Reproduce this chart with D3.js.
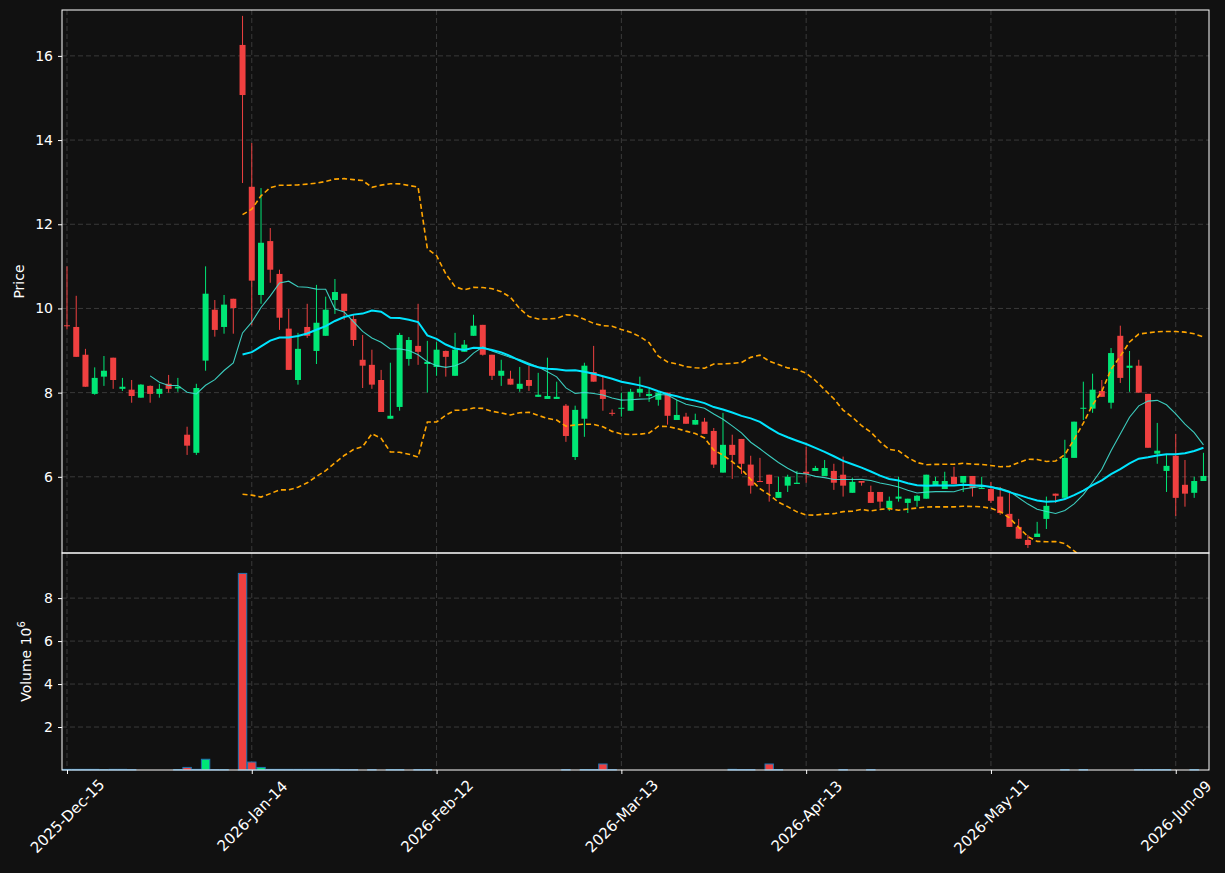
<!DOCTYPE html>
<html>
<head>
<meta charset="utf-8">
<script src="https://cdn.jsdelivr.net/npm/d3@7"></script>
<style>
  body { margin: 0; background: #111111; }
  svg text { font-family: "DejaVu Sans", sans-serif; fill: #ffffff; }
</style>
</head>
<body>
<svg id="chart" width="1225" height="873"></svg>
<script>
// OHLC, one entry per trading day
var opens  = [9.6,9.56,8.9,7.97,8.38,8.83,8.09,8.07,7.88,8.16,7.97,8.21,8.1,7.0,6.57,8.76,9.97,9.56,10.23,16.26,
              12.89,10.32,11.6,10.82,9.52,8.3,9.56,8.99,9.35,10.2,10.35,9.75,8.78,8.66,8.3,7.38,7.66,8.8,9.11,8.68,
              8.61,8.99,8.4,8.97,9.35,9.61,8.9,8.4,8.33,8.09,8.3,7.9,7.85,7.85,7.69,6.47,7.38,8.49,8.07,7.52,
              7.62,7.57,8.0,7.92,7.83,8.0,7.35,7.43,7.24,7.31,7.09,6.1,6.76,6.9,6.29,5.9,6.05,5.5,5.79,5.83,
              6.12,6.14,6.02,6.14,6.05,5.62,5.9,5.64,5.64,5.26,5.48,5.38,5.43,5.48,5.79,5.71,6.0,5.86,6.02,5.71,
              5.71,5.53,5.12,4.81,4.5,4.57,5.0,5.6,5.5,6.45,7.62,7.62,8.04,7.76,9.35,8.59,8.64,7.97,6.55,6.14,
              6.5,5.81,5.62,5.9];
var highs  = [11.0,10.3,9.04,8.6,8.87,8.83,8.35,8.3,8.2,8.17,8.21,8.42,8.35,7.19,8.21,11.0,10.2,10.32,10.23,16.95,
              13.93,12.86,11.91,10.92,9.99,9.42,10.11,10.56,10.28,10.7,10.35,9.85,9.37,9.02,8.54,8.71,9.42,9.32,10.11,9.23,
              9.2,9.0,9.42,9.25,9.85,9.61,8.9,8.78,8.52,8.61,8.64,8.47,8.83,8.26,7.73,7.69,8.71,9.11,8.38,7.6,
              8.0,8.09,8.38,8.09,8.02,8.0,7.83,7.52,7.5,7.4,7.16,7.52,7.0,6.9,6.5,6.45,6.05,6.0,6.05,6.14,
              6.71,6.26,6.4,6.31,6.48,5.98,5.9,5.79,5.64,5.53,6.0,5.48,5.57,6.05,6.0,6.12,6.24,6.02,6.02,6.0,
              5.88,5.76,5.62,5.0,4.62,4.93,5.53,5.6,6.88,7.31,8.26,8.45,8.3,9.06,9.59,8.99,8.78,7.97,7.28,6.52,
              7.02,6.4,6.0,6.57];
var lows   = [9.5,8.85,8.14,7.95,8.16,8.09,8.04,7.76,7.88,7.76,7.88,8.0,8.02,6.52,6.52,8.52,9.33,9.4,9.4,12.98,
              9.6,10.11,10.61,9.49,8.54,8.19,9.3,8.68,9.35,9.87,9.73,9.11,8.11,8.09,7.54,7.38,7.57,8.64,8.66,8.0,
              8.4,8.38,8.4,8.97,9.35,8.88,8.3,8.16,8.19,8.02,8.04,7.9,7.85,7.85,6.83,6.4,6.95,8.26,7.57,7.45,
              7.43,7.57,7.9,7.78,7.69,7.24,7.35,7.26,7.24,7.02,6.21,6.1,5.95,6.07,5.6,5.88,5.41,5.5,5.64,5.83,
              5.86,6.14,6.02,5.69,5.53,5.62,5.79,5.38,5.26,5.19,5.41,5.14,5.29,5.48,5.79,5.71,5.83,5.64,5.53,5.71,
              5.38,5.1,4.81,4.53,4.31,4.57,4.76,5.38,5.5,6.45,7.35,7.52,7.9,7.62,8.23,8.02,8.0,6.69,6.31,5.64,
              5.07,5.29,5.5,5.9];
var closes = [9.59,8.85,8.14,8.35,8.52,8.3,8.14,7.92,8.19,7.97,8.09,8.09,8.14,6.74,8.11,10.35,9.49,10.09,10.01,15.07,
              10.66,11.56,10.92,9.78,8.54,9.04,9.35,9.66,9.97,10.39,9.94,9.25,8.64,8.19,7.54,7.45,9.37,9.25,8.97,8.73,
              9.02,8.85,9.02,9.14,9.59,8.9,8.4,8.52,8.19,8.21,8.16,7.95,7.92,7.9,6.97,7.59,8.64,8.26,7.85,7.5,
              7.64,8.02,8.09,7.97,8.0,7.45,7.47,7.26,7.35,7.02,6.29,6.76,6.52,6.31,5.79,5.88,5.83,5.64,6.0,5.86,
              6.07,6.21,6.21,5.86,5.79,5.88,5.86,5.38,5.41,5.43,5.53,5.48,5.55,6.05,5.9,5.9,5.83,6.02,5.74,5.74,
              5.43,5.14,4.81,4.53,4.38,4.65,5.31,5.55,6.45,7.31,7.64,8.07,7.9,8.94,8.35,8.64,8.0,6.69,6.62,6.26,
              5.5,5.6,5.9,6.02];
// volume in millions
var volumes = [0.03,0.03,0.03,0.03,0.02,0.03,0.03,0.02,0,0,0,0,0.02,0.12,0.03,0.5,0.02,0.02,0,9.15,
               0.37,0.12,0.03,0.03,0.03,0.03,0.03,0.03,0.03,0.03,0.02,0.02,0,0.02,0,0.02,0.02,0,0.02,0.02,
               0,0,0,0,0,0,0,0,0,0,0,0,0,0,0.02,0,0.02,0.02,0.28,0.02,
               0,0,0,0,0,0,0,0,0,0,0,0,0.03,0.02,0.02,0,0.28,0.02,0,0,
               0,0,0,0,0.02,0,0,0.02,0,0,0,0,0,0,0,0,0,0,0,0,
               0,0,0,0,0,0,0,0,0.02,0,0.02,0,0,0,0,0,0.02,0.02,0.02,0.02,
               0,0,0.02,0];
var holidays = ["2025-12-25","2026-01-01","2026-01-19","2026-02-16","2026-04-03","2026-05-25"];
var tickIndex  = [0,20,40,60,80,100,120];
var tickLabels = ["2025-Dec-15","2026-Jan-14","2026-Feb-12","2026-Mar-13","2026-Apr-13","2026-May-11","2026-Jun-09"];
var priceTicks = [6,8,10,12,14,16];
var volumeTicks = [2,4,6,8];

var RED = "#ef4040", GREEN = "#00e676";

// trading day calendar
var dates = [];
(function(){
    var d = new Date(Date.UTC(2025,11,15));
    var fmt = d3.utcFormat("%Y-%m-%d");
    while (dates.length < closes.length) {
        var wd = d.getUTCDay();
        if (wd != 0 && wd != 6 && holidays.indexOf(fmt(d)) < 0) dates.push(new Date(d));
        d = d3.utcDay.offset(d, 1);
    }
})();

var bars = closes.map(function(c,i){
    return {i:i, date:dates[i], o:opens[i], h:highs[i], l:lows[i], c:c, v:volumes[i]};
});

function sma(n){
    return closes.map(function(c,i){
        if (i < n-1) return null;
        return d3.mean(closes.slice(i-n+1,i+1));
    });
}
var ma10 = sma(10), ma20 = sma(20);
var bbUp = [], bbLo = [];
closes.forEach(function(c,i){
    if (i < 19) { bbUp.push(null); bbLo.push(null); return; }
    var w = closes.slice(i-19,i+1), m = d3.mean(w);
    var sd = Math.sqrt(d3.mean(w, function(v){ return (v-m)*(v-m); }));
    bbUp.push(m + 2*sd); bbLo.push(m - 2*sd);
});

var svg = d3.select("#chart");
svg.append("rect").attr("width",1225).attr("height",873).attr("fill","#111111");

var L = 62, R = 1209, pTop = 10, pBot = 553, vBot = 770;
var x = d3.scaleLinear().domain([-0.54, 123.6]).range([L, R]);
var yP = d3.scaleLinear().domain([4.19, 17.09]).range([pBot, pTop]);
var yV = d3.scaleLinear().domain([0, 10.1]).range([vBot, pBot]);

svg.append("clipPath").attr("id","clipP").append("rect")
    .attr("x",L).attr("y",pTop).attr("width",R-L).attr("height",pBot-pTop);

function grid(g, yScale, ticks, top, bot){
    g.selectAll(".hg").data(ticks).enter().append("line")
        .attr("x1",L).attr("x2",R).attr("y1",yScale).attr("y2",yScale)
        .attr("stroke","#3a3a3a").attr("stroke-dasharray","5,3");
    g.selectAll(".vg").data(tickIndex).enter().append("line")
        .attr("x1",x).attr("x2",x).attr("y1",top).attr("y2",bot)
        .attr("stroke","#3a3a3a").attr("stroke-dasharray","5,3");
}
grid(svg.append("g"), yP, priceTicks, pTop, pBot);
grid(svg.append("g"), yV, volumeTicks, pBot, vBot);

// candles
var cg = svg.append("g").attr("clip-path","url(#clipP)");
var col = function(d){ return d.c >= d.o ? GREEN : RED; };
cg.selectAll(".wick").data(bars).enter().append("line")
    .attr("x1",function(d){ return x(d.i); }).attr("x2",function(d){ return x(d.i); })
    .attr("y1",function(d){ return yP(d.h); }).attr("y2",function(d){ return yP(d.l); })
    .attr("stroke",col).attr("stroke-width",1);
cg.selectAll(".body").data(bars).enter().append("rect")
    .attr("x",function(d){ return x(d.i)-3; }).attr("width",6)
    .attr("y",function(d){ return yP(Math.max(d.o,d.c)); })
    .attr("height",function(d){ return Math.max(1, Math.abs(yP(d.o)-yP(d.c))); })
    .attr("fill",col);

function drawLine(vals, color, width, dash, opacity){
    var line = d3.line().defined(function(v){ return v != null; })
        .x(function(v,i){ return x(i); }).y(function(v){ return yP(v); });
    cg.append("path").datum(vals).attr("d",line).attr("fill","none")
        .attr("stroke",color).attr("stroke-width",width)
        .attr("stroke-dasharray",dash).attr("opacity",opacity);
}
drawLine(ma10, "#40e0d0", 1.1, null, 0.9);
drawLine(ma20, "#00e5ff", 2, null, 1);
drawLine(bbUp, "#ffa500", 1.6, "5,3", 1);
drawLine(bbLo, "#ffa500", 1.6, "5,3", 1);

// volume
svg.append("g").selectAll("rect").data(bars).enter().append("rect")
    .attr("x",function(d){ return x(d.i)-4.2; }).attr("width",8.4)
    .attr("y",function(d){ return yV(d.v); })
    .attr("height",function(d){ return yV(0)-yV(d.v); })
    .attr("fill",col).attr("stroke","#1f77b4").attr("stroke-width",1);

// frames
svg.append("rect").attr("x",L).attr("y",pTop).attr("width",R-L).attr("height",pBot-pTop)
    .attr("fill","none").attr("stroke","#ffffff").attr("stroke-width",1);
svg.append("rect").attr("x",L).attr("y",pBot).attr("width",R-L).attr("height",vBot-pBot)
    .attr("fill","none").attr("stroke","#ffffff").attr("stroke-width",1);

// axes
function styleAxis(g){
    g.select(".domain").remove();
    g.selectAll("line").attr("stroke","#ffffff");
    g.selectAll("text").attr("fill","#ffffff").style("font-size","14px")
        .style("font-family","DejaVu Sans, sans-serif");
}
svg.append("g").attr("transform","translate("+L+",0)")
    .call(d3.axisLeft(yP).tickValues(priceTicks).tickSize(4).tickPadding(5)).call(styleAxis);
svg.append("g").attr("transform","translate("+L+",0)")
    .call(d3.axisLeft(yV).tickValues(volumeTicks).tickSize(4).tickPadding(5)).call(styleAxis);
var xa = svg.append("g").attr("transform","translate(0,"+vBot+")")
    .call(d3.axisBottom(x).tickValues(tickIndex)
        .tickFormat(function(d,k){ return tickLabels[k]; }).tickSize(4)).call(styleAxis);
xa.selectAll("text").attr("text-anchor","middle").attr("dy","0.35em").attr("y",0)
    .style("font-size","15px")
    .attr("transform","translate(0,46) rotate(-45)");

svg.append("text").attr("transform","translate(24,"+((pTop+pBot)/2)+") rotate(-90)")
    .attr("text-anchor","middle").style("font-size","14px").text("Price");
var vl = svg.append("text").attr("transform","translate(31,"+((pBot+vBot)/2)+") rotate(-90)")
    .attr("text-anchor","middle").style("font-size","14px");
vl.append("tspan").text("Volume  10");
vl.append("tspan").attr("dy",-6).style("font-size","10px").text("6");
</script>
</body>
</html>
